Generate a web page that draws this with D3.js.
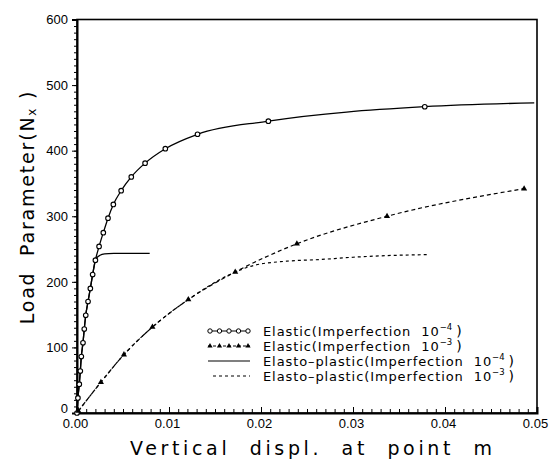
<!DOCTYPE html>
<html lang="en">
<head>
<meta charset="utf-8">
<title>Load vs displacement</title>
<script src="https://d3js.org/d3.v7.min.js"></script>
<style>
  body { margin: 0; background: #fff; }
  svg { display: block; font-family: "DejaVu Sans", sans-serif; }
  svg text { white-space: pre; }
  .axis path, .axis line { stroke: #000; }
  .axis text { font-size: 13px; fill: #000; }
</style>
</head>
<body>
<svg id="chart" width="558" height="459"></svg>
<script>
// data: displacement (m) and load parameter Nx
var elastic4X = [0, 0.0001, 0.00025, 0.00036, 0.00047, 0.00065, 0.00079, 0.00095, 0.0012, 0.00145, 0.0017, 0.002, 0.0024, 0.00286, 0.00337, 0.00395, 0.0048, 0.0059, 0.0074, 0.0096, 0.0131, 0.0208, 0.0378, 0.0497]
var elastic4Y = [0, 23, 44, 64, 86, 107, 128, 149, 170, 190, 211, 233, 254, 275, 297, 318, 339, 360, 381, 403, 425, 445, 467, 473]

var elastic3X = [0.00015, 0.0026, 0.0051, 0.0082, 0.0121, 0.0172, 0.0239, 0.0337, 0.0486]
var elastic3Y = [3, 47, 89, 131, 173, 215, 258, 300, 342]

var plastic4X = [0, 0.0001, 0.00025, 0.00036, 0.00047, 0.00065, 0.00079, 0.00095, 0.0012, 0.00145, 0.0017, 0.002, 0.0022, 0.0025, 0.003, 0.004, 0.0055, 0.0079]
var plastic4Y = [0, 23, 44, 64, 86, 107, 128, 149, 170, 190, 211, 233, 237.5, 240.5, 242.5, 243.3, 243.5, 243.5]

var plastic3X = [0.00015, 0.0026, 0.0051, 0.0082, 0.0121, 0.0172, 0.0192, 0.0228, 0.0264, 0.030, 0.0337, 0.0382]
var plastic3Y = [3, 47, 89, 131, 173, 215, 225, 231.5, 234, 237.5, 240, 241.5]

var legendNames = ["Elastic(Imperfection  10", "Elastic(Imperfection  10", "Elasto\u2013plastic(Imperfection  10", "Elasto\u2013plastic(Imperfection  10"]
var legendExp = ["\u22124", "\u22123", "\u22124", "\u22123"]

var xTickLabels = ["0.00", "0.01", "0.02", "0.03", "0.04", "0.05"]

var margin = {top: 19.5, right: 21, bottom: 46, left: 77}
var W = 558, H = 459
var width = W - margin.left - margin.right
var height = H - margin.top - margin.bottom

var svg = d3.select("#chart")
var g = svg.append("g").attr("transform", "translate(" + margin.left + "," + margin.top + ")")

var x = d3.scaleLinear().domain([0, 0.05]).range([0, width])
var y = d3.scaleLinear().domain([0, 600]).range([height, 0])

function pts(xs, ys) { return xs.map((d, i) => [d, ys[i]]) }

// frame
g.append("rect").attr("width", width).attr("height", height)
  .attr("fill", "none").attr("stroke", "#000").attr("stroke-width", 1.6)

// y axis: minor ticks every 10, major every 100
g.append("g").attr("class", "axis")
  .call(d3.axisLeft(y).tickValues(d3.range(0, 601, 10)).tickSize(3).tickFormat(""))
  .call(a => a.select(".domain").remove())
g.append("g").attr("class", "axis")
  .call(d3.axisLeft(y).tickValues(d3.range(0, 601, 100)).tickSize(5).tickPadding(4).tickFormat(d3.format("d")))
  .call(a => a.select(".domain").attr("stroke-width", 2))
  .call(a => a.selectAll("text").attr("font-size", 13.5))
  .call(a => a.selectAll("text").filter(d => d == 0).attr("dy", "-0.05em"))

// x axis: ticks point inward
g.append("g").attr("class", "axis").attr("transform", "translate(0," + height + ")")
  .call(d3.axisBottom(x).tickValues(d3.range(0, 51).map(d => d / 1000)).tickSize(-4).tickFormat(""))
  .call(a => a.select(".domain").remove())
g.append("g").attr("class", "axis").attr("transform", "translate(0," + height + ")")
  .call(d3.axisBottom(x).tickValues(d3.range(0, 6).map(d => d / 100)).tickSize(-6).tickPadding(6)
    .tickFormat((d, i) => xTickLabels[i]))
  .call(a => a.select(".domain").attr("stroke-width", 2))
  .call(a => a.selectAll("text").attr("dx", -2))

var line = d3.line().x(d => x(d[0])).y(d => y(d[1])).curve(d3.curveMonotoneX)

// curves
g.append("path").datum(pts(plastic4X, plastic4Y)).attr("d", line)
  .attr("fill", "none").attr("stroke", "#000").attr("stroke-width", 1.3)
g.append("path").datum(pts(plastic3X, plastic3Y)).attr("d", line)
  .attr("fill", "none").attr("stroke", "#000").attr("stroke-width", 1.2).attr("stroke-dasharray", "3,3")
g.append("path").datum(pts(elastic3X, elastic3Y)).attr("d", line)
  .attr("fill", "none").attr("stroke", "#000").attr("stroke-width", 1.2).attr("stroke-dasharray", "4,3")
g.append("path").datum(pts(elastic4X, elastic4Y)).attr("d", line)
  .attr("fill", "none").attr("stroke", "#000").attr("stroke-width", 1.3)

// markers
var tri = d3.symbol().type(d3.symbolTriangle).size(16)
g.selectAll(".circ").data(pts(elastic4X, elastic4Y).slice(0, -1)).enter().append("circle")
  .attr("cx", d => x(d[0])).attr("cy", d => y(d[1])).attr("r", 2.3)
  .attr("fill", "#fff").attr("stroke", "#000").attr("stroke-width", 1.1)
g.selectAll(".tri").data(pts(elastic3X, elastic3Y)).enter().append("path")
  .attr("d", tri).attr("transform", d => "translate(" + x(d[0]) + "," + y(d[1]) + ")").attr("fill", "#000")

// legend
var lg = svg.append("g").attr("transform", "translate(208,331)")
var rowH = 15
legendNames.forEach(function(name, i) {
  var row = lg.append("g").attr("transform", "translate(0," + i * rowH + ")")
  var l = row.append("line").attr("x1", i == 3 ? 5 : 0).attr("x2", 42).attr("y1", 0).attr("y2", 0)
    .attr("stroke", "#000").attr("stroke-width", 1.2)
  if (i == 1) l.attr("stroke-dasharray", "3,2")
  if (i == 3) l.attr("stroke-dasharray", "3,3")
  if (i == 0) d3.range(5).forEach(k => row.append("circle").attr("cx", 2 + k * 9.5).attr("cy", 0).attr("r", 2.2)
    .attr("fill", "#fff").attr("stroke", "#000").attr("stroke-width", 1))
  if (i == 1) d3.range(5).forEach(k => row.append("path").attr("d", d3.symbol().type(d3.symbolTriangle).size(12))
    .attr("transform", "translate(" + (2 + k * 9.5) + ",0)").attr("fill", "#000"))
  var t = row.append("text").attr("x", 55).attr("y", 4.5).attr("font-size", 13).attr("letter-spacing", 0.9)
  t.append("tspan").text(name)
  t.append("tspan").attr("dy", -6).attr("font-size", 8.5).attr("letter-spacing", 0).text(legendExp[i])
  t.append("tspan").attr("dy", 6).attr("font-size", 14).attr("dx", 4).text(")")
})

// axis titles
svg.append("text").attr("x", 311).attr("y", 455).attr("text-anchor", "middle")
  .attr("font-size", 19).attr("textLength", 362).attr("lengthAdjust", "spacing")
  .text("Vertical  displ.  at  point  m")

var yl = svg.append("text").attr("transform", "translate(34,207) rotate(-90)").attr("text-anchor", "middle")
  .attr("font-size", 19).attr("letter-spacing", 1.8)
yl.append("tspan").text("Load  Parameter(N")
yl.append("tspan").attr("font-size", 12).attr("dy", 2).text("x")
yl.append("tspan").attr("dy", -2).text(" )")
</script>
</body>
</html>
